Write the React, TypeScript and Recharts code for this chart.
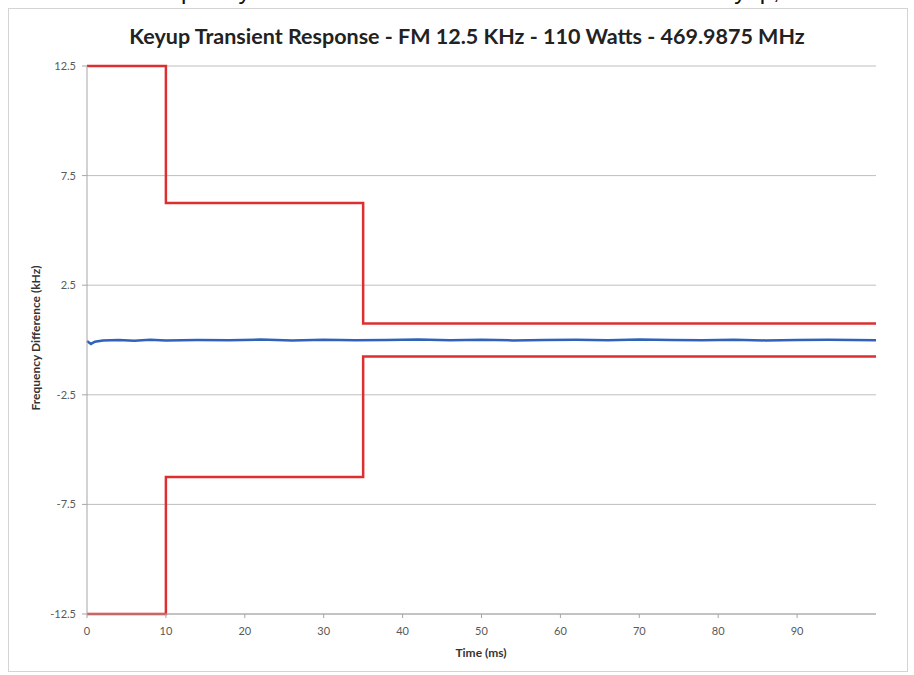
import { LineChart, Line, XAxis, YAxis, CartesianGrid } from 'recharts';

const chartTitle = 'Keyup Transient Response - FM 12.5 KHz - 110 Watts - 469.9875 MHz';
const xAxisTitle = 'Time (ms)';
const yAxisTitle = 'Frequency Difference (kHz)';

const xTicks = [0, 10, 20, 30, 40, 50, 60, 70, 80, 90];
const yTicks = [-12.5, -7.5, -2.5, 2.5, 7.5, 12.5];

// mask limits (step shaped)
const upperMaskTime = [0, 10, 10, 35, 35, 100];
const upperMaskKhz = [12.5, 12.5, 6.25, 6.25, 0.75, 0.75];
const lowerMaskTime = [0, 10, 10, 35, 35, 100];
const lowerMaskKhz = [-12.5, -12.5, -6.25, -6.25, -0.75, -0.75];

// measured frequency error
const measTime = [0, 0.5, 1, 2, 4, 6, 8, 10, 14, 18, 22, 26, 30, 34, 38, 42, 46, 50, 54, 58, 62, 66, 70, 74, 78, 82, 86, 90, 94, 100];
const measKhz = [-0.05, -0.18, -0.08, -0.02, 0.0, -0.03, 0.01, -0.02, 0.0, -0.01, 0.02, -0.02, 0.01, -0.01, 0.0, 0.02, -0.01, 0.01, -0.02, 0.0, 0.01, -0.01, 0.02, 0.0, -0.01, 0.01, -0.02, 0.0, 0.01, -0.01];

const upperMask = upperMaskTime.map((t, i) => ({ t, v: upperMaskKhz[i] }));
const lowerMask = lowerMaskTime.map((t, i) => ({ t, v: lowerMaskKhz[i] }));
const measured = measTime.map((t, i) => ({ t, v: measKhz[i] }));

const tickStyle = { fontSize: 11, fill: '#595959', fontFamily: 'Lato, sans-serif' };

export default function App() {
  return (
    <div style={{ position: 'absolute', left: 0, top: 0, width: 914, height: 675, background: '#fff', overflow: 'hidden' }}>
      {/* clipped line of page text above the chart, only descenders visible */}
      <div style={{ position: 'absolute', left: 0, top: 0, width: 914, height: 8, overflow: 'hidden' }}>
        <span style={{ position: 'absolute', left: 137, top: -21, fontSize: 24, lineHeight: '24px', fontFamily: 'Liberation Sans, sans-serif', color: '#111' }}>
          Frequency
        </span>
        <span style={{ position: 'absolute', left: 709, top: -21, fontSize: 24, lineHeight: '24px', fontFamily: 'Liberation Sans, sans-serif', color: '#111' }}>
          keyup,
        </span>
      </div>
      <div style={{ position: 'absolute', left: 8, top: 8, width: 898, height: 662, border: '1px solid #d4d4d4' }} />
      <div
        style={{
          position: 'absolute',
          left: 0,
          top: 23,
          width: 934,
          textAlign: 'center',
          fontFamily: 'Lato, sans-serif',
          fontWeight: 700,
          fontSize: 21.5,
          color: '#222',
        }}
      >
        {chartTitle}
      </div>
      <div
        style={{
          position: 'absolute',
          left: 35,
          top: 338,
          transform: 'translate(-50%, -50%) rotate(-90deg)',
          whiteSpace: 'nowrap',
          fontFamily: 'Lato, sans-serif',
          fontWeight: 700,
          fontSize: 12,
          color: '#333',
        }}
      >
        {yAxisTitle}
      </div>
      <div
        style={{
          position: 'absolute',
          left: 481,
          top: 652,
          transform: 'translate(-50%, -50%)',
          whiteSpace: 'nowrap',
          fontFamily: 'Lato, sans-serif',
          fontWeight: 700,
          fontSize: 12,
          color: '#333',
        }}
      >
        {xAxisTitle}
      </div>
      <div style={{ position: 'absolute', left: 0, top: 0 }}>
        <LineChart width={914} height={675} margin={{ top: 66, right: 38, left: 27, bottom: 31 }}>
          <CartesianGrid vertical={false} stroke="#bfbfbf" strokeWidth={1} />
          <XAxis
            dataKey="t"
            type="number"
            domain={[0, 100]}
            ticks={xTicks}
            allowDuplicatedCategory={false}
            height={30}
            tick={tickStyle}
            tickSize={4}
            tickMargin={9}
            stroke="#a6a6a6"
          />
          <YAxis
            dataKey="v"
            type="number"
            domain={[-12.5, 12.5]}
            ticks={yTicks}
            width={60}
            tick={tickStyle}
            tickSize={5}
            tickMargin={6}
            stroke="#a6a6a6"
            interval={0}
          />
          <Line
            data={measured}
            dataKey="v"
            type="linear"
            stroke="#2f62b8"
            strokeWidth={2.5}
            dot={false}
            isAnimationActive={false}
          />
          <Line
            data={upperMask}
            dataKey="v"
            type="linear"
            stroke="#dc2f2f"
            strokeWidth={2.5}
            dot={false}
            isAnimationActive={false}
          />
          <Line
            data={lowerMask}
            dataKey="v"
            type="linear"
            stroke="#dc2f2f"
            strokeWidth={2.5}
            dot={false}
            isAnimationActive={false}
          />
        </LineChart>
      </div>
    </div>
  );
}
